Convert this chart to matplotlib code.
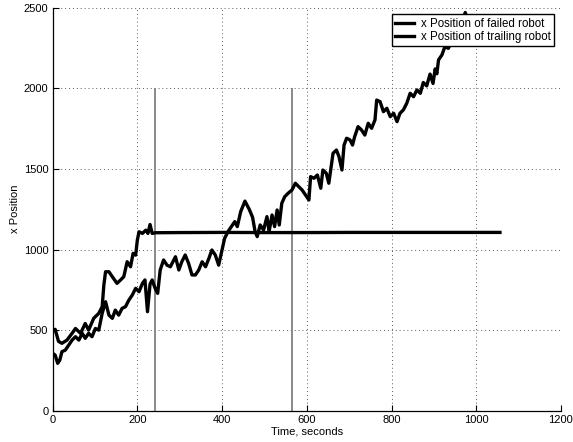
import matplotlib
matplotlib.use("Agg")
import matplotlib.pyplot as plt

plt.rcParams['font.family'] = ['Liberation Sans', 'DejaVu Sans']

# x position of the robot that failed (stops moving at ~242 s)
failed_t = [0, 6, 14, 22, 34, 46, 54, 66, 77, 85, 97, 109, 117, 121, 125, 133,
            141, 152, 160, 168, 176, 184, 190, 196, 200, 204, 212, 220, 225,
            230, 235, 243, 300, 400, 500, 600, 700, 800, 900, 1000, 1056]
failed_x = [490, 505, 430, 418, 438, 480, 510, 480, 541, 500, 573, 604, 645,
            780, 862, 862, 831, 790, 810, 831, 924, 893, 976, 965, 1058, 1110,
            1100, 1120, 1100, 1155, 1100, 1104, 1105, 1106, 1105, 1105, 1106,
            1106, 1106, 1106, 1106]

# x position of the trailing robot
trail_t = [0, 6, 12, 17, 22, 30, 38, 46, 54, 62, 70, 77, 85, 93, 101, 109, 117,
           125, 133, 141, 148, 156, 164, 172, 180, 188, 196, 204, 212, 218,
           224, 230, 235, 242, 248, 254, 262, 270, 278, 290, 298, 305, 313,
           321, 329, 337, 345, 353, 361, 369, 376, 384, 392, 399, 406, 414,
           422, 430, 436, 444, 454, 464, 472, 478, 483, 490, 498, 506, 511,
           518, 524, 530, 535, 541, 548, 556, 565, 573, 581, 589, 597, 605,
           609, 617, 625, 633, 638, 646, 652, 662, 670, 676, 683, 688, 694,
           702, 708, 713, 721, 729, 737, 745, 753, 761, 765, 773, 781, 789,
           797, 805, 813, 820, 828, 836, 844, 852, 860, 868, 875, 883, 891,
           898, 903, 907, 911, 919, 926, 934, 942, 950, 956, 962, 968, 974,
           980, 990, 1000, 1010, 1020, 1030, 1040, 1045, 1050, 1056]
trail_x = [356, 345, 294, 314, 366, 376, 407, 438, 459, 438, 480, 449, 480, 459,
           510, 500, 604, 676, 593, 573, 624, 593, 635, 645, 686, 717, 759,
           738, 790, 811, 614, 785, 811, 759, 728, 873, 935, 903, 893, 955,
           873, 924, 966, 914, 842, 842, 873, 924, 893, 945, 997, 966, 903,
           987, 1069, 1111, 1142, 1173, 1142, 1235, 1300, 1250, 1200, 1111,
           1080, 1152, 1121, 1204, 1111, 1214, 1142, 1245, 1152, 1287, 1328,
           1349, 1369, 1411, 1390, 1369, 1338, 1307, 1452, 1442, 1462, 1380,
           1493, 1473, 1411, 1597, 1617, 1576, 1493, 1648, 1690, 1680, 1648,
           1700, 1762, 1742, 1710, 1783, 1752, 1804, 1927, 1917, 1855, 1876,
           1824, 1845, 1793, 1845, 1866, 1907, 1969, 1948, 1990, 1969, 2036,
           2015, 2088, 2030, 2120, 2090, 2176, 2207, 2258, 2248, 2289, 2279,
           2330, 2380, 2420, 2470, 2420, 2400, 2380, 2400, 2350, 2330, 2300,
           2275, 2300, 2320]

# event markers
event_t = [242, 565]
event_top = 2000

x_ticks = [0, 200, 400, 600, 800, 1000, 1200]
y_ticks = [0, 500, 1000, 1500, 2000, 2500]

fig = plt.figure(figsize=(5.73, 4.42), dpi=100)
ax = fig.add_axes([0.0918, 0.0708, 0.8872, 0.9118])

ax.vlines(event_t, 0, event_top, colors='0.5', linewidth=1.3, zorder=2)
ax.plot(failed_t, failed_x, color='black', linewidth=2.4,
        label='x Position of failed robot', zorder=3)
ax.plot(trail_t, trail_x, color='black', linewidth=2.4,
        label='x Position of trailing robot', zorder=3)

ax.set_xlim(0, 1200)
ax.set_ylim(0, 2500)
ax.set_xticks(x_ticks)
ax.set_yticks(y_ticks)
ax.tick_params(direction='in', length=4, width=0.8, labelsize=8, pad=3)
ax.grid(True, linestyle=(0, (1, 3)), color='0.35', linewidth=0.7)
ax.set_axisbelow(True)
for side in ('top', 'right'):
    ax.spines[side].set_visible(False)
for side in ('left', 'bottom'):
    ax.spines[side].set_linewidth(0.9)

ax.set_xlabel('Time, seconds', fontsize=8, labelpad=1.5)
ax.set_ylabel('x Position', fontsize=8, labelpad=3)

leg = ax.legend(loc='upper right', bbox_to_anchor=(0.987, 0.984),
                borderaxespad=0, fontsize=8.3, frameon=True, fancybox=False,
                handlelength=1.65, handletextpad=0.6, borderpad=0.3,
                labelspacing=0.1)
leg.get_frame().set_edgecolor('black')
leg.get_frame().set_linewidth(1.0)
leg.get_frame().set_alpha(1.0)
leg.set_zorder(5)

fig.savefig('out.png', dpi=100)
